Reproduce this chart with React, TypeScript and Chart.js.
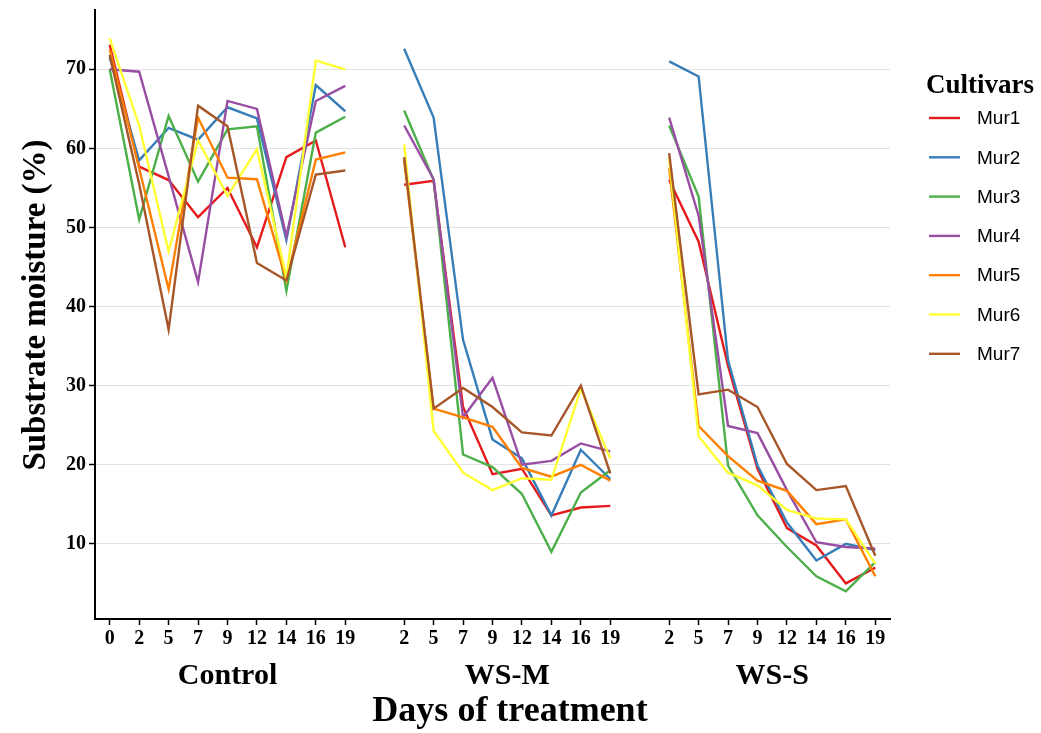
import React, { useEffect, useRef } from "react";
import { Chart, registerables } from "chart.js";

Chart.register(...registerables);

// ---- Categories ----
const controlDays = ["0", "2", "5", "7", "9", "12", "14", "16", "19"];
const wsmDays = ["2", "5", "7", "9", "12", "14", "16", "19"];
const wssDays = ["2", "5", "7", "9", "12", "14", "16", "19"];
const groupNames = ["Control", "WS-M", "WS-S"];
const cultivars = ["Mur1", "Mur2", "Mur3", "Mur4", "Mur5", "Mur6", "Mur7"];
const colors = ["#E41A1C", "#377EB8", "#4DAF4A", "#984EA3", "#FF7F00", "#FFFF33", "#A65628"];
const yTicks = [10, 20, 30, 40, 50, 60, 70];

// ---- Series values: [Control, WS-M, WS-S] ----
const mur1 = [
  [73.1, 57.7, 56.0, 51.3, 55.0, 47.5, 58.9, 61.0, 47.5],
  [55.4, 55.9, 27.3, 18.8, 19.5, 13.6, 14.6, 14.8],
  [56.0, 48.2, 32.5, 19.5, 12.0, 9.8, 5.0, 7.0],
];
const mur2 = [
  [71.5, 58.5, 62.6, 61.1, 65.2, 63.8, 48.4, 68.0, 64.7],
  [72.6, 63.9, 35.8, 23.2, 20.8, 13.6, 21.9, 18.2],
  [71.0, 69.1, 33.2, 19.9, 12.7, 7.9, 10.0, 9.2],
];
const mur3 = [
  [70.0, 51.0, 64.1, 55.8, 62.4, 62.8, 42.0, 62.0, 64.0],
  [64.8, 56.0, 21.3, 19.7, 16.3, 9.0, 16.5, 19.3],
  [62.9, 53.9, 19.9, 13.6, 9.6, 5.9, 4.0, 7.7],
];
const mur4 = [
  [70.0, 69.7, 56.5, 43.1, 66.0, 65.0, 48.9, 66.0, 67.9],
  [62.9, 56.1, 26.0, 31.0, 20.0, 20.5, 22.7, 21.7],
  [63.9, 51.5, 24.9, 24.0, 16.8, 10.2, 9.6, 9.4],
];
const mur5 = [
  [72.5, 57.5, 42.2, 63.9, 56.3, 56.1, 43.3, 58.6, 59.5],
  [58.5, 27.1, 26.0, 24.8, 19.6, 18.5, 20.0, 18.0],
  [57.5, 24.9, 21.1, 18.0, 16.7, 12.5, 13.1, 5.9],
];
const mur6 = [
  [73.9, 62.9, 47.0, 61.0, 54.0, 59.9, 43.7, 71.1, 70.0],
  [60.5, 24.3, 19.0, 16.8, 18.3, 18.1, 29.6, 20.8],
  [58.7, 23.6, 19.0, 17.4, 14.3, 13.2, 13.1, 7.5],
];
const mur7 = [
  [71.8, 55.5, 37.1, 65.4, 62.8, 45.5, 43.3, 56.7, 57.2],
  [58.9, 27.1, 29.7, 27.3, 24.1, 23.7, 30.0, 18.9],
  [59.4, 28.9, 29.5, 27.3, 20.1, 16.8, 17.3, 8.5],
];
const seriesValues = [mur1, mur2, mur3, mur4, mur5, mur6, mur7];

const SERIF = "'Liberation Serif', 'Times New Roman', serif";
const SANS = "'Liberation Sans', Arial, sans-serif";

const labels = [...controlDays, "", ...wsmDays, "", ...wssDays];
const groupRanges = [
  [0, controlDays.length - 1],
  [controlDays.length + 1, controlDays.length + wsmDays.length],
  [controlDays.length + wsmDays.length + 2, labels.length - 1],
];

const overlayPlugin = {
  id: "overlay",
  afterDraw(chart: any) {
    const ctx = chart.ctx;
    const xs = chart.scales.x;
    ctx.save();
    ctx.fillStyle = "#000";
    // group labels
    ctx.font = `bold 30px ${SERIF}`;
    ctx.textAlign = "center";
    ctx.textBaseline = "alphabetic";
    groupRanges.forEach((r, i) => {
      const cx = (xs.getPixelForValue(r[0]) + xs.getPixelForValue(r[1])) / 2;
      ctx.fillText(groupNames[i], cx, 684);
    });
    // x title
    ctx.font = `bold 36px ${SERIF}`;
    ctx.fillText("Days of treatment", 510, 721);
    // y title
    ctx.save();
    ctx.translate(45, 305);
    ctx.rotate(-Math.PI / 2);
    ctx.font = `bold 33px ${SERIF}`;
    ctx.fillText("Substrate moisture (%)", 0, 0);
    ctx.restore();
    // legend
    ctx.textAlign = "left";
    ctx.font = `bold 27px ${SERIF}`;
    ctx.fillText("Cultivars", 926, 93);
    ctx.font = `19px ${SANS}`;
    cultivars.forEach((name, i) => {
      const y = 118 + 39.3 * i;
      ctx.strokeStyle = colors[i];
      ctx.lineWidth = 2.4;
      ctx.beginPath();
      ctx.moveTo(929, y);
      ctx.lineTo(960, y);
      ctx.stroke();
      ctx.fillStyle = "#000";
      ctx.textBaseline = "middle";
      ctx.fillText(name, 977, y + 1);
    });
    ctx.restore();
  },
};

export default function App() {
  const canvasRef = useRef<HTMLCanvasElement | null>(null);

  useEffect(() => {
    if (!canvasRef.current) return;
    const datasets = cultivars.map((name, i) => {
      const v = seriesValues[i];
      return {
        label: name,
        data: [...v[0], null, ...v[1], null, ...v[2]],
        borderColor: colors[i],
        backgroundColor: colors[i],
        borderWidth: 2.4,
        pointRadius: 0,
        tension: 0,
        spanGaps: false,
        order: cultivars.length - i,
      };
    });
    const chart = new Chart(canvasRef.current, {
      type: "line",
      data: { labels, datasets },
      options: {
        animation: false,
        responsive: false,
        devicePixelRatio: 1,
        layout: { padding: { top: 0, right: 151, left: 0, bottom: 0 } },
        plugins: { legend: { display: false }, tooltip: { enabled: false } },
        scales: {
          x: {
            type: "category",
            offset: true,
            grid: {
              display: true,
              drawOnChartArea: false,
              drawTicks: true,
              tickLength: 6,
              tickWidth: 1.5,
              tickColor: (c: any) => (labels[c.index] === "" ? "rgba(0,0,0,0)" : "#000"),
            },
            border: { display: true, color: "#000", width: 2 },
            ticks: {
              autoSkip: false,
              maxRotation: 0,
              minRotation: 0,
              padding: 2,
              color: "#000",
              font: { family: SERIF, size: 20, weight: "bold" },
            },
            afterFit: (s: any) => {
              s.height = 114;
            },
          },
          y: {
            min: 0.5,
            max: 77.5,
            afterBuildTicks: (s: any) => {
              s.ticks = yTicks.map((v) => ({ value: v }));
            },
            grid: {
              color: "#e2e2e2",
              lineWidth: 1,
              tickColor: "#000",
              tickLength: 6,
              tickWidth: 1.5,
            },
            border: { display: true, color: "#000", width: 2 },
            ticks: {
              padding: 3,
              color: "#000",
              font: { family: SERIF, size: 20, weight: "bold", lineHeight: 1 },
            },
            afterFit: (s: any) => {
              s.width = 95;
              s.paddingTop = 10;
            },
          },
        },
      },
      plugins: [overlayPlugin],
    } as any);
    return () => chart.destroy();
  }, []);

  return (
    <div style={{ position: "absolute", left: 0, top: 0, width: 1041, height: 733, background: "#fff" }}>
      <canvas ref={canvasRef} width={1041} height={733} style={{ display: "block" }} />
    </div>
  );
}
